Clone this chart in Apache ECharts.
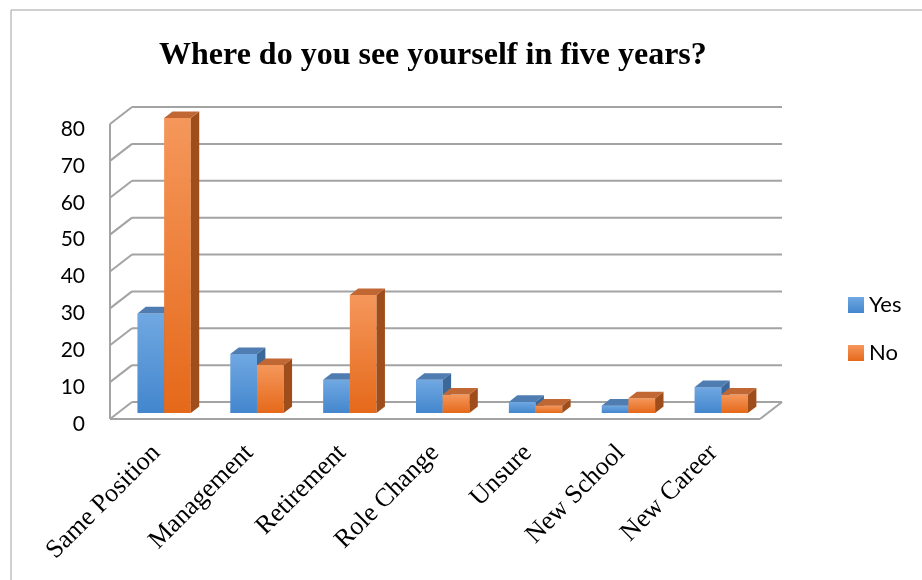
<!DOCTYPE html>
<html>
<head>
<meta charset="utf-8">
<title>Where do you see yourself in five years?</title>
<script src="https://cdn.jsdelivr.net/npm/echarts@6/dist/echarts.min.js"></script>
<style>
  html, body { margin: 0; padding: 0; background: #ffffff; }
  #chart { width: 922px; height: 580px; }
</style>
</head>
<body>
<div id="chart"></div>
<script>
// Survey answers per category
const categories = ['Same Position', 'Management', 'Retirement', 'Role Change', 'Unsure', 'New School', 'New Career'];
const yesValues = [27, 16, 9, 9, 3, 2, 7];
const noValues = [80, 13, 32, 5, 2, 4, 5];
const yTicks = [0, 10, 20, 30, 40, 50, 60, 70, 80];

// Pseudo-3D geometry: wall depth, bar-plane offset and bar depth (pixels)
const WALL_DX = 22, WALL_DY = -17;
const PLANE_DX = 7.7, PLANE_DY = -6;
const BAR_DX = 8.4, BAR_DY = -6.6;
const BAR_FRACTION = 0.2875;
const LABEL_DY = 5; // value labels sit a little below their grid lines

const GRID_LINE = '#a3a3a3';

const palette = {
  Yes: { top: '#70a8e2', bottom: '#4386cd', cap: '#4f7db2', side: '#3b6799' },
  No:  { top: '#f5975b', bottom: '#e5691a', cap: '#c06734', side: '#9f4e1b' }
};

function vGrad(c1, c2) {
  return new echarts.graphic.LinearGradient(0, 0, 0, 1, [
    { offset: 0, color: c1 }, { offset: 1, color: c2 }
  ]);
}

function line(x1, y1, x2, y2) {
  return {
    type: 'line',
    shape: { x1, y1, x2, y2 },
    style: { stroke: GRID_LINE, lineWidth: 2 },
    silent: true
  };
}

// Walls and floor of the chart box, drawn from the front-plane axes
function renderWalls(params, api) {
  const cs = params.coordSys;
  const v = api.value(0);
  const y = api.coord([0, v])[1];
  const left = cs.x, right = cs.x + cs.width;
  const children = [
    line(left, y, left + WALL_DX, y + WALL_DY),
    line(left + WALL_DX, y + WALL_DY, right + WALL_DX, y + WALL_DY)
  ];
  if (v === yTicks[0]) {
    children.push(line(left, y, right, y));
    children.push(line(right, y, right + WALL_DX, y + WALL_DY));
  }
  if (v === yTicks[yTicks.length - 1]) {
    const y0 = api.coord([0, yTicks[0]])[1];
    children.push(line(left, y, left, y0));
  }
  return { type: 'group', children };
}

function barRenderer(key, side) {
  const col = palette[key];
  return function (params, api) {
    const cat = api.value(0);
    const val = api.value(1);
    const base = api.coord([cat, 0]);
    const topPt = api.coord([cat, val]);
    const band = api.size([1, 0])[0];
    const w = band * BAR_FRACTION;
    const x0 = side < 0 ? base[0] - w : base[0];
    const x1 = x0 + w;
    const yb = base[1], yt = topPt[1];
    return {
      type: 'group',
      children: [
        {
          type: 'rect',
          shape: { x: x0, y: yt, width: w, height: yb - yt },
          style: { fill: vGrad(col.top, col.bottom) }
        },
        {
          type: 'polygon',
          shape: { points: [[x1, yt], [x1 + BAR_DX, yt + BAR_DY], [x1 + BAR_DX, yb + BAR_DY], [x1, yb]] },
          style: { fill: col.side }
        },
        {
          type: 'polygon',
          shape: { points: [[x0, yt], [x0 + BAR_DX, yt + BAR_DY], [x1 + BAR_DX, yt + BAR_DY], [x1, yt]] },
          style: { fill: col.cap }
        }
      ]
    };
  };
}

const chart = echarts.init(document.getElementById('chart'), null, { renderer: 'canvas' });

const FRONT = { left: 110, top: 124, right: 162, bottom: 161 };

const hiddenAxis = {
  axisLine: { show: false }, axisTick: { show: false },
  axisLabel: { show: false }, splitLine: { show: false }
};

chart.setOption({
  animation: false,
  backgroundColor: '#ffffff',
  title: {
    text: 'Where do you see yourself in five years?',
    left: 159,
    top: 40,
    padding: 0,
    textStyle: {
      fontFamily: 'Liberation Serif',
      fontWeight: 'bold',
      fontSize: 32,
      color: '#000000'
    }
  },
  legend: {
    orient: 'vertical',
    left: 848,
    top: 294,
    padding: 0,
    itemWidth: 16,
    itemHeight: 16,
    itemGap: 26,
    icon: 'rect',
    data: ['Yes', 'No'],
    textStyle: { fontFamily: 'Lato', fontSize: 22, color: '#000000' }
  },
  graphic: [
    {
      type: 'rect',
      shape: { x: 11, y: 10, width: 1000, height: 1000 },
      style: { fill: 'none', stroke: '#a0a0a0', lineWidth: 1 },
      silent: true,
      z: 0
    }
  ],
  grid: [
    // front plane of the box
    { left: FRONT.left, top: FRONT.top, right: FRONT.right, bottom: FRONT.bottom },
    // plane in which the bars stand
    {
      left: FRONT.left + PLANE_DX,
      top: FRONT.top + PLANE_DY,
      right: FRONT.right - PLANE_DX,
      bottom: FRONT.bottom - PLANE_DY
    },
    // value-axis labels
    {
      left: FRONT.left,
      top: FRONT.top + LABEL_DY,
      right: FRONT.right,
      bottom: FRONT.bottom - LABEL_DY
    }
  ],
  xAxis: [
    {
      gridIndex: 0, type: 'category', data: categories,
      axisLine: { show: false }, axisTick: { show: false },
      axisLabel: {
        interval: 0,
        rotate: 45,
        margin: 30,
        fontFamily: 'Liberation Serif',
        fontSize: 26,
        color: '#000000'
      }
    },
    Object.assign({ gridIndex: 1, type: 'category', data: categories }, hiddenAxis),
    Object.assign({ gridIndex: 2, type: 'category', data: categories }, hiddenAxis)
  ],
  yAxis: [
    Object.assign({ gridIndex: 0, type: 'value', min: 0, max: 80, interval: 10 }, hiddenAxis),
    Object.assign({ gridIndex: 1, type: 'value', min: 0, max: 80, interval: 10 }, hiddenAxis),
    {
      gridIndex: 2, type: 'value', min: 0, max: 80, interval: 10,
      axisLine: { show: false }, axisTick: { show: false }, splitLine: { show: false },
      axisLabel: {
        margin: 25,
        fontFamily: 'Lato',
        fontSize: 21,
        color: '#000000'
      }
    }
  ],
  series: [
    {
      type: 'custom',
      name: 'walls',
      xAxisIndex: 0,
      yAxisIndex: 0,
      silent: true,
      z: 1,
      data: yTicks.map(v => [v]),
      encode: { y: 0 },
      renderItem: renderWalls
    },
    {
      type: 'custom',
      name: 'Yes',
      xAxisIndex: 1,
      yAxisIndex: 1,
      z: 2,
      itemStyle: { color: vGrad(palette.Yes.top, palette.Yes.bottom) },
      data: yesValues.map((v, i) => [i, v]),
      encode: { x: 0, y: 1 },
      renderItem: barRenderer('Yes', -1)
    },
    {
      type: 'custom',
      name: 'No',
      xAxisIndex: 1,
      yAxisIndex: 1,
      z: 3,
      itemStyle: { color: vGrad(palette.No.top, palette.No.bottom) },
      data: noValues.map((v, i) => [i, v]),
      encode: { x: 0, y: 1 },
      renderItem: barRenderer('No', 1)
    }
  ]
});
</script>
</body>
</html>
